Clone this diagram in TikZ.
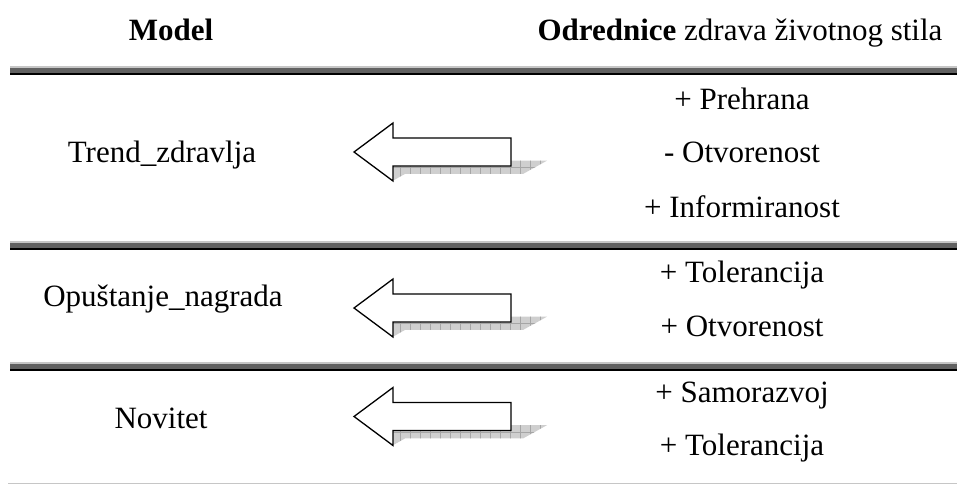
\documentclass[tikz,border=0pt]{standalone}
\usepackage{fontspec}
\setmainfont{Liberation Serif}
\tikzset{
  txt/.style={anchor=base, inner sep=0pt, font=\fontsize{31}{36}\selectfont},
  arrowshape/.style={draw=black, line width=1.3pt, fill=white, line join=miter},
  shadowfill/.style={fill=gray!38},
  gridline/.style={draw=gray!70, line width=0.5pt},
}
\newcommand{\sepband}[1]{%
  \begin{scope}[shift={(0,#1)}]
    \fill[gray!45] (10,0) rectangle (957,1.6);
    \fill[black!62] (10,1.6) rectangle (957,6.8);
    \fill[black] (10,6.8) rectangle (957,9);
  \end{scope}}
\newcommand{\bigarrow}[1]{%
  \begin{scope}[shift={(0,#1)}]
    \path[shadowfill] (378,15.3) -- (441.8,1.5) -- (429,8.65) -- (547,8.65) -- (523,21.95) -- (405,21.95) -- (392.2,29.1) -- cycle;
    \begin{scope}
      \clip (378,15.3) -- (441.8,1.5) -- (429,8.65) -- (547,8.65) -- (523,21.95) -- (405,21.95) -- (392.2,29.1) -- cycle;
      \foreach \gx in {400,410,...,550} {\draw[gridline] (\gx,0) -- (\gx,30);}
      \draw[gridline] (380,15.3) -- (550,15.3);
    \end{scope}
    \draw[arrowshape] (354,0) -- (393,-29) -- (393,-14) -- (511,-14) -- (511,14) -- (393,14) -- (393,29) -- cycle;
  \end{scope}}
\begin{document}
\begin{tikzpicture}[x=1pt,y=-1pt]
\useasboundingbox (0,0) rectangle (957,484);
\fill[white] (0,0) rectangle (957,484);
% header
\node[txt] (hmodel) at (171,41) {\textbf{Model}};
\node[txt] (hodr) at (740,41) {\textbf{Odrednice} zdrava životnog stila};
% separators
\sepband{66}
\sepband{241}
\sepband{362}
\fill[gray!45] (8,482.5) rectangle (957,484);
% arrows
\bigarrow{152}
\bigarrow{308}
\bigarrow{416.5}
% row 1
\node[txt] (m1) at (162,162) {Trend\_zdravlja};
\node[txt] (r11) at (742,110) {+ Prehrana};
\node[txt] (r12) at (742,162) {- Otvorenost};
\node[txt] (r13) at (742,217) {+ Informiranost};
% row 2
\node[txt] (m2) at (163,306) {Opuštanje\_nagrada};
\node[txt] (r21) at (742,282) {+ Tolerancija};
\node[txt] (r22) at (742,336) {+ Otvorenost};
% row 3
\node[txt] (m3) at (161,428) {Novitet};
\node[txt] (r31) at (742,402) {+ Samorazvoj};
\node[txt] (r32) at (742,455) {+ Tolerancija};
\end{tikzpicture}
\end{document}
